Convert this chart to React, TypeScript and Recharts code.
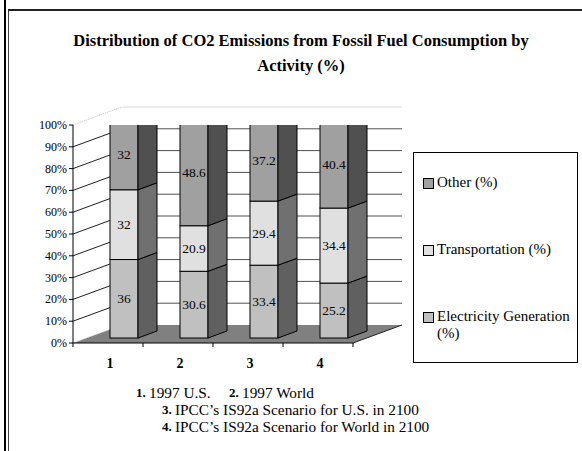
import React from "react";
import { BarChart, Bar, XAxis, YAxis, CartesianGrid, LabelList } from "recharts";

const FONT = "'Liberation Serif', 'Times New Roman', serif";

const categories = ["1", "2", "3", "4"];
const electricity = [36, 30.6, 33.4, 25.2];
const transportation = [32, 20.9, 29.4, 34.4];
const other = [32, 48.6, 37.2, 40.4];
const yTicks = [0, 10, 20, 30, 40, 50, 60, 70, 80, 90, 100];

const series = [
  { key: "electricity", lines: ["Electricity Generation", "(%)"], front: "#c0c0c0", side: "#606060" },
  { key: "transportation", lines: ["Transportation (%)"], front: "#e0e0e0", side: "#707070" },
  { key: "other", lines: ["Other (%)"], front: "#a0a0a0", side: "#505050" },
];

const data = categories.map((c, i) => ({
  name: c,
  electricity: electricity[i],
  transportation: transportation[i],
  other: other[i],
}));

// layout of the fake 3d box
const PLOT_TOP = 125;
const PLOT_BOTTOM = 343;
const DEPTH_X = 49;
const DEPTH_Y = -18;
const BAR_DX = 16;
const BAR_DY = -5;
const SIDE_X = 19;
const SIDE_Y = -7;

function Prism(props: any) {
  const { x, y, width, height, front, side, topFace } = props;
  if (!width || height == null) return null;
  const fx = x + BAR_DX;
  const fy = y + BAR_DY;
  const sidePts = [
    [fx + width, fy],
    [fx + width + SIDE_X, fy + SIDE_Y],
    [fx + width + SIDE_X, fy + SIDE_Y + height],
    [fx + width, fy + height],
  ];
  const topPts = [
    [fx, fy],
    [fx + SIDE_X, fy + SIDE_Y],
    [fx + width + SIDE_X, fy + SIDE_Y],
    [fx + width, fy],
  ];
  return (
    <g>
      <rect x={fx} y={fy} width={width} height={height} fill={front} stroke="#000" strokeWidth={1} />
      <polygon points={sidePts.map((p) => p.join(",")).join(" ")} fill={side} stroke="#000" strokeWidth={1} />
      {topFace && (
        <polygon points={topPts.map((p) => p.join(",")).join(" ")} fill="#505050" stroke="#000" strokeWidth={1} />
      )}
    </g>
  );
}

function SegmentLabel(props: any) {
  const { x, y, width, height, value } = props;
  return (
    <text
      x={x + BAR_DX + width / 2}
      y={y + BAR_DY + height / 2}
      textAnchor="middle"
      dominantBaseline="central"
      style={{ fontFamily: FONT, fontSize: 13.5 }}
      fill="#000"
    >
      {value}
    </text>
  );
}

function WallLine(props: any) {
  const { x1, y1, x2 } = props;
  const bx1 = x1 + DEPTH_X;
  const bx2 = x2 + DEPTH_X;
  const by = y1 + DEPTH_Y;
  const isBottom = Math.abs(y1 - PLOT_BOTTOM) < 1;
  const isTop = Math.abs(y1 - PLOT_TOP) < 1;
  if (isBottom) {
    return (
      <g>
        <polygon
          points={`${x1},${y1} ${x2},${y1} ${bx2},${by} ${bx1},${by}`}
          fill="#808080"
          stroke="none"
        />
        <line x1={x1} y1={y1} x2={bx1} y2={by} stroke="#cfcfcf" strokeDasharray="1 1" />
        <line x1={x2} y1={y1} x2={bx2} y2={by} stroke="#202020" />
      </g>
    );
  }
  if (isTop) {
    return (
      <g>
        <line x1={x1} y1={y1} x2={bx1} y2={by} stroke="#bdbdbd" strokeDasharray="1 1" />
        <line x1={bx1} y1={by} x2={bx2} y2={by} stroke="#d8d8d8" />
      </g>
    );
  }
  return (
    <g>
      <line x1={x1} y1={y1} x2={bx1} y2={by} stroke="#202020" />
      <line x1={bx1} y1={by} x2={bx2} y2={by} stroke="#505050" />
    </g>
  );
}

function ValueTick(props: any) {
  const { x, y, payload } = props;
  return (
    <text x={x} y={y} textAnchor="end" dominantBaseline="central" style={{ fontFamily: FONT, fontSize: 12 }} fill="#000">
      {`${payload.value}%`}
    </text>
  );
}

function CategoryTick(props: any) {
  const { x, y, payload, index } = props;
  const axisW = typeof props.width === "number" ? props.width : 280;
  const half = axisW / categories.length / 2;
  return (
    <g>
      <line x1={x - half} y1={y} x2={x - half} y2={y + 4} stroke="#000" />
      {index === categories.length - 1 && (
        <line x1={x + half} y1={y} x2={x + half} y2={y + 4} stroke="#000" />
      )}
      <text
        x={x + 2}
        y={y + 20}
        textAnchor="middle"
        dominantBaseline="central"
        style={{ fontFamily: FONT, fontSize: 14, fontWeight: "bold" }}
        fill="#000"
      >
        {payload.value}
      </text>
    </g>
  );
}

const notes = [
  { top: 385, parts: [{ left: 136, b: "1." }, { left: 149, t: "1997 U.S." }, { left: 229, b: "2." }, { left: 242, t: "1997 World" }] },
  { top: 402, parts: [{ left: 162, b: "3." }, { left: 175, t: "IPCC\u2019s IS92a Scenario for U.S. in 2100" }] },
  { top: 419, parts: [{ left: 162, b: "4." }, { left: 175, t: "IPCC\u2019s IS92a Scenario for World in 2100" }] },
];

const legendTops = [174, 241, 308];

export default function App() {
  const legendItems = [...series].reverse();
  return (
    <div
      style={{
        position: "absolute",
        left: 0,
        top: 0,
        width: 582,
        height: 451,
        background: "#fff",
        fontFamily: FONT,
        color: "#000",
        overflow: "hidden",
      }}
    >
      {/* page frame */}
      <div style={{ position: "absolute", left: 4, top: 0, width: 2, height: 451, background: "#000" }} />
      <div style={{ position: "absolute", left: 8, top: 9, width: 1, height: 442, background: "#444" }} />
      <div style={{ position: "absolute", left: 8, top: 9, width: 574, height: 2, background: "#222" }} />

      <div
        style={{
          position: "absolute",
          left: 20,
          top: 28,
          width: 562,
          textAlign: "center",
          fontWeight: "bold",
          fontSize: 16.5,
          lineHeight: "25px",
        }}
      >
        Distribution of CO2 Emissions from Fossil Fuel Consumption by
        <br />
        Activity (%)
      </div>

      <div style={{ position: "absolute", left: 0, top: 0 }}>
        <BarChart
          width={582}
          height={451}
          data={data}
          margin={{ top: PLOT_TOP, right: 229, bottom: 78, left: 33 }}
          barSize={28}
        >
          <CartesianGrid vertical={false} horizontal={(p: any) => <WallLine key={p.key} {...p} />} />
          <YAxis
            width={40}
            domain={[0, 100]}
            ticks={yTicks}
            allowDataOverflow
            tickSize={4}
            tickMargin={2}
            tickLine={{ stroke: "#000" }}
            axisLine={{ stroke: "#000" }}
            tick={<ValueTick />}
            interval={0}
          />
          <XAxis
            dataKey="name"
            height={30}
            tickLine={false}
            tickSize={0}
            tickMargin={0}
            axisLine={{ stroke: "#000" }}
            tick={<CategoryTick />}
            interval={0}
          />
          {series.map((s, i) => (
            <Bar
              key={s.key}
              dataKey={s.key}
              stackId="a"
              isAnimationActive={false}
              shape={(p: any) => (
                <Prism {...p} front={s.front} side={s.side} topFace={i === series.length - 1} />
              )}
            >
              <LabelList dataKey={s.key} content={<SegmentLabel />} />
            </Bar>
          ))}
        </BarChart>
      </div>

      {/* legend */}
      <div
        style={{
          position: "absolute",
          left: 413,
          top: 152,
          width: 165,
          height: 211,
          boxSizing: "border-box",
          border: "1px solid #000",
        }}
      />
      {legendItems.map((s, i) => (
        <div
          key={s.key}
          style={{
            position: "absolute",
            left: 423,
            top: legendTops[i],
            fontSize: 15,
            lineHeight: "17px",
            whiteSpace: "nowrap",
          }}
        >
          <span
            style={{
              position: "absolute",
              left: 0,
              top: 4,
              width: 9,
              height: 9,
              background: s.front,
              border: "1px solid #000",
            }}
          />
          {s.lines.map((l, j) => (
            <div key={j} style={{ marginLeft: 14 }}>
              {l}
            </div>
          ))}
        </div>
      ))}

      {notes.map((n, i) =>
        n.parts.map((p, j) => (
          <div
            key={`${i}-${j}`}
            style={{
              position: "absolute",
              left: p.left,
              top: n.top,
              fontSize: p.b ? 13 : 15.3,
              fontWeight: p.b ? "bold" : "normal",
              lineHeight: "16px",
              whiteSpace: "nowrap",
            }}
          >
            {p.b ?? p.t}
          </div>
        ))
      )}
    </div>
  );
}
